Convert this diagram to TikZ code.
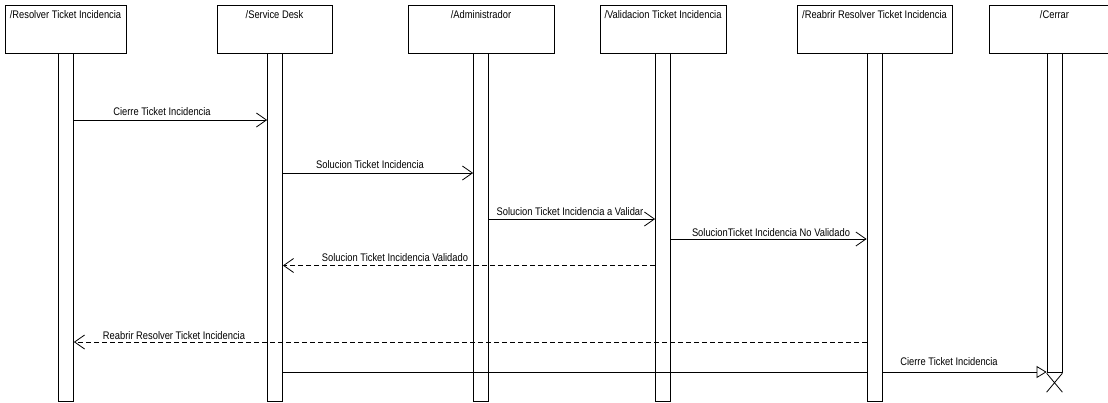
\documentclass[tikz,border=0pt]{standalone}
\usepackage{fontspec}
\setmainfont{Liberation Sans}[FakeStretch=0.85]
\usetikzlibrary{arrows.meta}

\begin{document}
\begin{tikzpicture}[x=1pt,y=-1pt,
  font=\fontsize{11}{13}\selectfont,
  line width=0.8pt,
  head/.style={draw=black, fill=white, minimum height=48pt, inner sep=0pt},
  title/.style={anchor=base, inner sep=0pt},
  bar/.style={draw=black, fill=white, minimum width=15pt, inner sep=0pt},
  lbl/.style={anchor=base, inner sep=0pt},
  msg/.style={draw=black, -{Straight Barb[length=10pt,width=14pt,line width=0.8pt]}},
  ret/.style={msg, dash pattern=on 5pt off 3pt},
  plain/.style={draw=black},
  close/.style={draw=black, -{Triangle[length=10pt,width=12pt,fill=white,line width=0.8pt]}}
]
% canvas
\useasboundingbox (0,0) rectangle (1108,402);
\fill[white] (0,0) rectangle (1108,402);
\clip (0,0) rectangle (1108,402);

% lifeline heads
\node[head, minimum width=121pt] (h1) at (65.5,29) {};
\node[head, minimum width=115pt] (h2) at (274.5,29) {};
\node[head, minimum width=146pt] (h3) at (481,29) {};
\node[head, minimum width=126pt] (h4) at (663,29) {};
\node[head, minimum width=155pt] (h5) at (874.5,29) {};
\node[head, minimum width=131pt] (h6) at (1054.5,29) {};

\node[title] (t1) at (h1.center |- 0,18.5) {/Resolver Ticket Incidencia};
\node[title] (t2) at (h2.center |- 0,18.5) {/Service Desk};
\node[title] (t3) at (h3.center |- 0,18.5) {/Administrador};
\node[title] (t4) at (h4.center |- 0,18.5) {/Validacion Ticket Incidencia};
\node[title] (t5) at (h5.center |- 0,18.5) {/Reabrir Resolver Ticket Incidencia};
\node[title] (t6) at (h6.center |- 0,18.5) {/Cerrar};

% activation bars
\node[bar, minimum height=348pt, anchor=north] (b1) at (h1.south -| 66,0) {};
\node[bar, minimum height=348pt, anchor=north] (b2) at (h2.south -| 275,0) {};
\node[bar, minimum height=348pt, anchor=north] (b3) at (h3.south -| 481,0) {};
\node[bar, minimum height=348pt, anchor=north] (b4) at (h4.south -| 663,0) {};
\node[bar, minimum height=348pt, anchor=north] (b5) at (h5.south -| 874.5,0) {};
\node[bar, minimum height=319pt, anchor=north] (b6) at (h6.south -| 1054.5,0) {};

% message levels
\coordinate (m1) at (0,120);
\coordinate (m2) at (0,173);
\coordinate (m3) at (0,219);
\coordinate (m4) at (0,239);
\coordinate (m5) at (0,265.5);
\coordinate (m6) at (0,342);
\coordinate (m7) at (0,372);

% messages
\draw[msg] (b1.east |- m1) -- (b2.west |- m1);
\draw[msg] (b2.east |- m2) -- (b3.west |- m2);
\draw[msg] (b3.east |- m3) -- (b4.west |- m3);
\draw[msg] (b4.east |- m4) -- (b5.west |- m4);
\draw[ret] (b4.west |- m5) -- (b2.east |- m5);
\draw[ret] (b5.west |- m6) -- (b1.east |- m6);
\draw[plain] (b2.east |- m7) -- (b5.west |- m7);
\draw[close] (b5.east |- m7) -- (b6.west |- m7);

% destruction mark
\draw (b6.south west) -- ([yshift=-19pt]b6.south east)
      (b6.south east) -- ([yshift=-19pt]b6.south west);

% message labels
\node[lbl] (l1) at (162,115) {Cierre Ticket Incidencia};
\node[lbl] (l2) at (370,168) {Solucion Ticket Incidencia};
\node[lbl] (l3) at (570,215) {Solucion Ticket Incidencia a Validar};
\node[lbl] (l4) at (771,236) {SolucionTicket Incidencia No Validado};
\node[lbl] (l5) at (395,261) {Solucion Ticket Incidencia Validado};
\node[lbl] (l6) at (174,339) {Reabrir Resolver Ticket Incidencia};
\node[lbl] (l7) at (949,365) {Cierre Ticket Incidencia};
\end{tikzpicture}
\end{document}
